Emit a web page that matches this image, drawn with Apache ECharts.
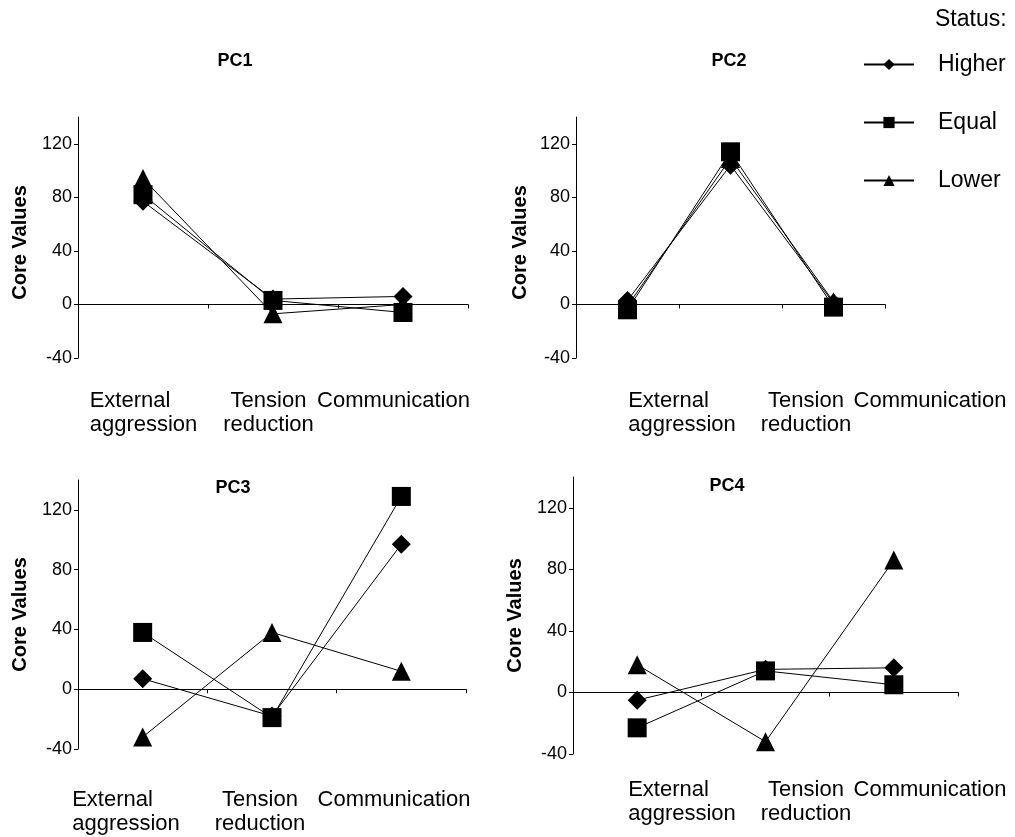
<!DOCTYPE html>
<html>
<head>
<meta charset="utf-8">
<script src="https://cdn.jsdelivr.net/npm/echarts@6/dist/echarts.min.js"></script>
<style>
html,body{margin:0;padding:0;background:#fff;}
#c{width:1015px;height:837px;}
</style>
</head>
<body>
<div id="c"></div>
<script>
// ---- data ----
const categories = ['External aggression', 'Tension reduction', 'Communication'];
const statuses = ['Higher', 'Equal', 'Lower'];
const panelTitles = ['PC1', 'PC2', 'PC3', 'PC4'];
const yTicks = [-40, 0, 40, 80, 120];

const pc1Higher = [77, 4, 6];
const pc1Equal  = [82, 3, -6];
const pc1Lower  = [94, -7, 0];

const pc2Higher = [3, 104, 1];
const pc2Equal  = [-4, 114, -2];
const pc2Lower  = [-1, 109, 2];

const pc3Higher = [7, -18, 97];
const pc3Equal  = [38, -19, 129];
const pc3Lower  = [-32, 38, 12];

const pc4Higher = [-5, 15, 16];
const pc4Equal  = [-23, 14, 5];
const pc4Lower  = [18, -32, 86];

const panelData = [
  [pc1Higher, pc1Equal, pc1Lower],
  [pc2Higher, pc2Equal, pc2Lower],
  [pc3Higher, pc3Equal, pc3Lower],
  [pc4Higher, pc4Equal, pc4Lower]
];

// ---- layout / style ----
const FONT = "'Liberation Sans', Arial, Helvetica, sans-serif";
const symbols = ['diamond', 'rect', 'triangle'];
const zOrder = [3, 4, 2];
const plotGrids = [
  {left: 78,  top: 117, width: 390, height: 241},
  {left: 576, top: 117, width: 309, height: 241},
  {left: 78,  top: 480, width: 388, height: 269},
  {left: 573, top: 477, width: 385, height: 277}
];
const labelGrids = [
  {left: 81,  width: 375, margin: 31},
  {left: 620, width: 372, margin: 31},
  {left: 59,  width: 402, margin: 39},
  {left: 620, width: 372, margin: 24}
];
const titlePos = [
  {x: 235, y: 52},
  {x: 729, y: 52},
  {x: 233, y: 479},
  {x: 727, y: 477}
];
const nameGaps = [48, 46, 48, 48];
const nameShift = [10, 10, 0, 0];

const grid = [], xAxis = [], yAxis = [], series = [], title = [];

plotGrids.forEach((g) => {
  grid.push({left: g.left, top: g.top, width: g.width, height: g.height, outerBoundsMode: 'none'});
});
labelGrids.forEach((g, i) => {
  const p = plotGrids[i];
  grid.push({left: g.left, top: p.top, width: g.width, height: p.height, outerBoundsMode: 'none'});
});

plotGrids.forEach((g, i) => {
  xAxis.push({
    gridIndex: i, type: 'category', data: categories, boundaryGap: true,
    axisLine: {show: true, onZero: true, lineStyle: {color: '#000', width: 1}},
    axisTick: {show: true, length: 4, interval: 0, lineStyle: {color: '#000', width: 1}},
    axisLabel: {show: false},
    splitLine: {show: false}
  });
  yAxis.push({
    gridIndex: i, type: 'value', min: -40, max: 140, interval: 40,
    axisLine: {show: true, lineStyle: {color: '#000', width: 1}},
    axisTick: {show: true, length: 4, customValues: yTicks, lineStyle: {color: '#000', width: 1}},
    axisLabel: {customValues: yTicks, margin: 6, color: '#000', fontSize: 18, fontFamily: FONT},
    splitLine: {show: false},
    name: 'Core Values', nameLocation: 'middle', nameRotate: 90, nameGap: nameGaps[i],
    nameTextStyle: {fontSize: 20, fontWeight: 'bold', color: '#000', fontFamily: FONT,
      padding: [0, nameShift[i], 0, 0]}
  });
});

labelGrids.forEach((g, i) => {
  xAxis.push({
    gridIndex: 4 + i, type: 'category', data: categories, position: 'bottom',
    axisLine: {show: false, onZero: false},
    axisTick: {show: false},
    splitLine: {show: false},
    axisLabel: {
      interval: 0, margin: g.margin, color: '#000', fontSize: 22, lineHeight: 24, fontFamily: FONT,
      formatter: function (v, idx) {
        const parts = v.split(' ');
        if (idx === 0) return parts.map(s => '{l|' + s + '}').join('\n');
        return parts.join('\n');
      },
      rich: {l: {align: 'left', fontSize: 22, lineHeight: 24, color: '#000', fontFamily: FONT}}
    }
  });
  yAxis.push({gridIndex: 4 + i, type: 'value', show: false, min: 0, max: 1});
});

panelData.forEach((arrs, i) => {
  arrs.forEach((d, s) => {
    series.push({
      type: 'line', name: statuses[s], xAxisIndex: i, yAxisIndex: i, data: d,
      symbol: symbols[s], symbolSize: 19, z: zOrder[s],
      itemStyle: {color: '#000'},
      lineStyle: {color: '#000', width: 1},
      emphasis: {disabled: true}, silent: true
    });
  });
  title.push({
    text: panelTitles[i], left: titlePos[i].x, top: titlePos[i].y, textAlign: 'center', padding: 0,
    textStyle: {fontSize: 18, fontWeight: 'bold', color: '#000', fontFamily: FONT}
  });
});

title.push({
  text: 'Status:', left: 935, top: 8, padding: 0,
  textStyle: {fontSize: 23, fontWeight: 'normal', color: '#000', fontFamily: FONT}
});

const chart = echarts.init(document.getElementById('c'), null, {renderer: 'canvas'});
chart.setOption({
  animation: false,
  backgroundColor: '#fff',
  title: title,
  legend: {
    orient: 'vertical', left: 863, top: 53, padding: 0,
    itemWidth: 50, itemHeight: 14, itemGap: 35,
    data: statuses, selectedMode: false,
    textStyle: {fontSize: 23, color: '#000', fontFamily: FONT, padding: [0, 0, 0, 19]}
  },
  grid: grid,
  xAxis: xAxis,
  yAxis: yAxis,
  series: series
});
</script>
</body>
</html>
